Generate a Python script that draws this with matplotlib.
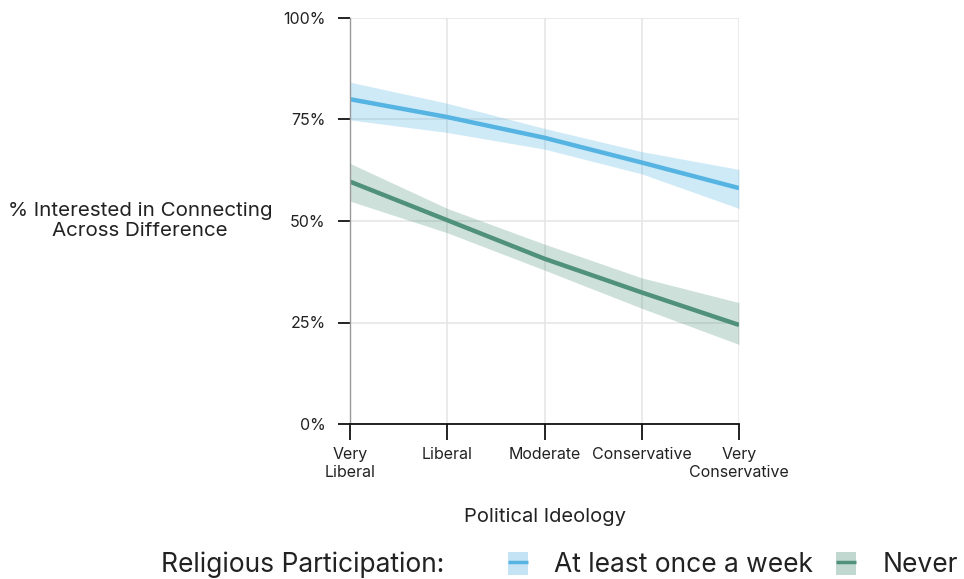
import matplotlib
matplotlib.use("Agg")
import matplotlib.pyplot as plt
from matplotlib.patches import Patch
from matplotlib.lines import Line2D

plt.rcParams['font.family'] = ['Inter', 'DejaVu Sans']

ideology = ["Very\nLiberal", "Liberal", "Moderate", "Conservative", "Very\nConservative"]
weekly_mean = [80.0, 75.6, 70.5, 64.4, 58.1]
weekly_low = [74.9, 71.8, 67.7, 61.6, 53.1]
weekly_high = [84.2, 79.0, 72.8, 67.1, 62.7]
never_mean = [59.7, 50.2, 40.7, 32.4, 24.4]
never_low = [54.9, 47.1, 37.9, 28.5, 19.6]
never_high = [64.2, 53.1, 44.3, 36.0, 29.9]
y_ticks = [0, 25, 50, 75, 100]
y_tick_labels = ["0%", "25%", "50%", "75%", "100%"]

blue = "#56b4e3"
green = "#4f917a"
grid_c = "#e6e6e6"
text_c = "#222222"

fig = plt.figure(figsize=(9.64, 5.79), dpi=100)
ax = fig.add_axes([350 / 964, 1 - 424 / 579, 389 / 964, 406 / 579])

x = list(range(len(ideology)))
ax.fill_between(x, weekly_low, weekly_high, color=blue, alpha=0.28, linewidth=0)
ax.plot(x, weekly_mean, color=blue, linewidth=3.2, solid_capstyle="butt")
ax.fill_between(x, never_low, never_high, color=green, alpha=0.28, linewidth=0)
ax.plot(x, never_mean, color=green, linewidth=3.2, solid_capstyle="butt")

ax.set_xlim(0, 4)
ax.set_ylim(0, 100)
ax.set_xticks(x)
ax.set_xticklabels(ideology, fontsize=11.5, color=text_c, linespacing=1.25)
ax.set_yticks(y_ticks)
ax.set_yticklabels(y_tick_labels, fontsize=11.5, color=text_c)
ax.grid(True, color=grid_c, linewidth=1.2)
ax.set_axisbelow(True)

for s in ("top", "right"):
    ax.spines[s].set_visible(False)
ax.spines["left"].set_color("#999999")
ax.spines["left"].set_linewidth(1.0)
ax.spines["bottom"].set_color("#111111")
ax.spines["bottom"].set_linewidth(1.3)

ax.tick_params(axis="x", length=11.5, width=1.3, color="#111111", pad=5)
ax.tick_params(axis="y", length=8.6, width=1.3, color="#111111", pad=9)
ax.xaxis.get_major_ticks()[0].tick1line.set_color("#999999")
ax.xaxis.get_major_ticks()[0].tick1line.set_linewidth(1.0)
ax.yaxis.get_major_ticks()[-1].tick1line.set_color("#999999")

ax.set_xlabel("Political Ideology", fontsize=14.5, color=text_c, labelpad=20)
ax.text(-0.54, 0.5, "% Interested in Connecting\nAcross Difference", transform=ax.transAxes,
        ha="center", va="center", fontsize=14.8, color=text_c, linespacing=1.1)

fig.text(161 / 964, 1 - 565 / 579, "Religious Participation:", fontsize=19,
         color=text_c, ha="left", va="center")

handles = [
    (Patch(facecolor=blue, alpha=0.35, edgecolor="none"),
     Line2D([], [], color=blue, linewidth=2.5, solid_capstyle="butt")),
    (Patch(facecolor=green, alpha=0.35, edgecolor="none"),
     Line2D([], [], color=green, linewidth=2.5, solid_capstyle="butt")),
]
fig.legend(handles, ["At least once a week", "Never"], loc="center left",
           bbox_to_anchor=(508 / 964, 1 - 565 / 579), ncol=2, frameon=False,
           borderpad=0, borderaxespad=0,
           fontsize=19, handlelength=0.76, handleheight=0.96, handletextpad=1.0,
           columnspacing=0.85, labelcolor=text_c)

fig.savefig("out.png", dpi=100)
